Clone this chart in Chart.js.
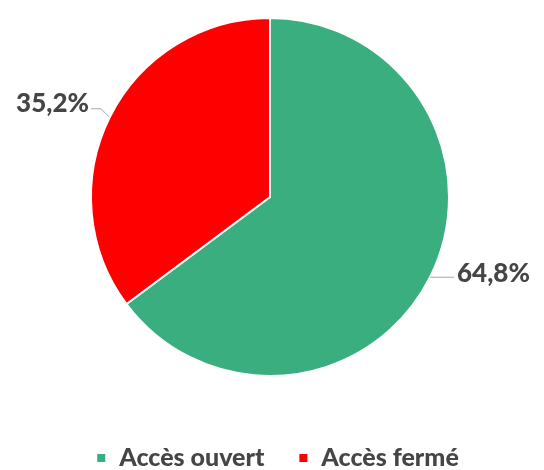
<!DOCTYPE html>
<html>
<head>
<meta charset="utf-8">
<script src="https://cdn.jsdelivr.net/npm/chart.js@4"></script>
<style>
  html, body { margin: 0; padding: 0; background: #fff; }
  #wrap { width: 544px; height: 470px; }
</style>
</head>
<body>
<div id="wrap"><canvas id="camembert"></canvas></div>
<script>
// Données du graphique
var categories = ['Accès ouvert', 'Accès fermé'];
var valeurs = [64.8, 35.2];
var etiquettes = ['64,8%', '35,2%'];
var couleurs = ['#3aae7f', '#ff0000'];

var police = 'Lato, "DejaVu Sans", sans-serif';
var gris = '#454545';

// Étiquettes externes avec traits de rappel
var pluginEtiquettes = {
    id: 'etiquettes',
    afterDatasetsDraw: function (chart) {
        var c = chart.ctx;
        var arcs = chart.getDatasetMeta(0).data;
        c.save();
        c.font = '900 26px ' + police;
        c.textBaseline = 'alphabetic';
        arcs.forEach(function (arc, i) {
            var milieu = (arc.startAngle + arc.endAngle) / 2;
            var x0 = arc.x + Math.cos(milieu) * arc.outerRadius;
            var y0 = arc.y + Math.sin(milieu) * arc.outerRadius;
            var droite = Math.cos(milieu) >= 0;
            c.strokeStyle = '#a6a6a6';
            c.lineWidth = 1;
            c.beginPath();
            if (droite) {
                c.moveTo(x0, y0);
                c.lineTo(x0 + 24, y0);
                c.stroke();
                c.fillStyle = gris;
                c.textAlign = 'left';
                c.fillText(etiquettes[i], x0 + 27, y0 + 5);
            } else {
                c.moveTo(x0 - 1, y0);
                c.lineTo(x0 - 9, y0 - 8);
                c.lineTo(x0 - 19, y0 - 8);
                c.stroke();
                c.fillStyle = gris;
                c.textAlign = 'right';
                c.fillText(etiquettes[i], x0 - 21, y0 - 5);
            }
        });
        c.restore();
    }
};

// Légende dessinée en bas
var pluginLegende = {
    id: 'legende',
    afterDraw: function (chart) {
        var c = chart.ctx;
        c.save();
        c.font = '900 25px ' + police;
        c.textBaseline = 'middle';
        c.textAlign = 'left';
        var y = 458;
        var largeurs = categories.map(function (t) { return c.measureText(t).width; });
        var total = 0;
        largeurs.forEach(function (l) { total += 8 + 14 + l; });
        total += 35;
        var x = 278 - total / 2;
        categories.forEach(function (t, i) {
            c.fillStyle = couleurs[i];
            c.fillRect(x, y - 4, 8, 8);
            c.fillStyle = gris;
            c.fillText(t, x + 22, y);
            x += 22 + largeurs[i] + 35;
        });
        c.restore();
    }
};

var ctx = document.getElementById('camembert').getContext('2d');
var monCamembert = new Chart(ctx, {
    type: 'pie',
    data: {
        labels: categories,
        datasets: [{
            data: valeurs,
            backgroundColor: couleurs,
            borderColor: '#ffffff',
            borderWidth: 2
        }]
    },
    options: {
        responsive: true,
        maintainAspectRatio: false,
        animation: false,
        layout: {
            padding: { top: 17, bottom: 93, left: 90, right: 94 }
        },
        plugins: {
            legend: { display: false },
            tooltip: { enabled: false }
        }
    },
    plugins: [pluginEtiquettes, pluginLegende]
});
</script>
</body>
</html>
